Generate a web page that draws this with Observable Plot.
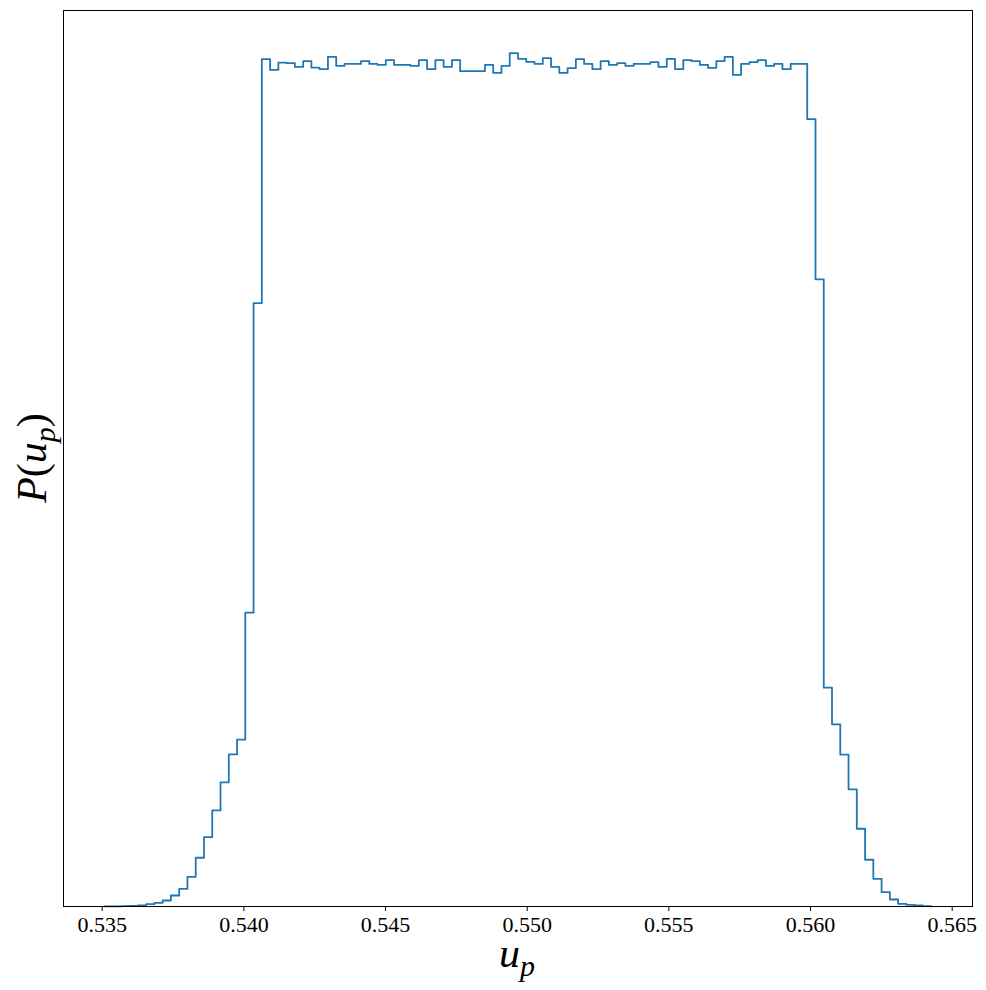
<!DOCTYPE html>
<html><head><meta charset="utf-8">
<script src="https://cdn.jsdelivr.net/npm/d3@7"></script>
<script src="https://cdn.jsdelivr.net/npm/@observablehq/plot@0.6"></script>
<style>body{margin:0;background:#fff}</style>
</head><body><div id="chart"></div>
<script>
// Histogram of u_p: 100 equal-width bins (heights in arbitrary units)
const binStart = 0.535092;
const binWidth = 0.00029166;
const counts = [
  0.1, 0.2, 0.3, 0.5, 1, 2.3, 3.7, 6, 11, 17.7,
  29.7, 48.7, 69.3, 96, 124, 152, 166.7, 293.7, 603, 846.7,
  836, 843.3, 842.7, 839, 844.7, 838.3, 836.7, 849, 840, 842,
  842, 844.7, 842, 841, 845.7, 841, 841, 840, 845.7, 836.7,
  845.7, 839, 845.7, 834.7, 834.7, 834.7, 841, 833, 840, 852.7,
  847, 844, 842, 847.7, 839, 833, 837.7, 846.7, 842, 836.7,
  844.7, 841, 842.7, 840, 842, 842, 843.7, 839, 847, 836.7,
  845.7, 844.7, 841, 838, 844.7, 849, 831, 842, 843.7, 845.7,
  840, 842, 836.7, 842, 842, 786.7, 626.7, 218.7, 182, 151.7,
  117, 77.7, 46.7, 27.7, 14.3, 7, 2.7, 1.7, 1, 0.3
];
const xTicks = [0.535, 0.540, 0.545, 0.550, 0.555, 0.560, 0.565];

const n = counts.length;
const binEnd = binStart + n * binWidth;
const pad = 0.05 * (binEnd - binStart);
const pts = [[binStart, 0]];
counts.forEach((c, i) => {
  const x0 = binStart + i * binWidth;
  pts.push([x0, c], [x0 + binWidth, c]);
});
pts.push([binEnd, 0]);

const chart = Plot.plot({
  width: 986, height: 990,
  marginLeft: 63, marginRight: 14, marginTop: 10, marginBottom: 84,
  x: {domain: [binStart - pad, binEnd + pad]},
  y: {domain: [0, d3.max(counts) * 1.05], axis: null},
  style: {fontFamily: "'Liberation Serif', serif", background: "white", color: "black"},
  marks: [
    Plot.line(pts, {x: d => d[0], y: d => d[1], stroke: "#1f77b4", strokeWidth: 1.8}),
    Plot.frame({stroke: "black", strokeWidth: 1}),
    Plot.axisX(xTicks, {tickFormat: d3.format(".3f"), tickSize: 5, tickPadding: 5, fontSize: 22, label: null})
  ]
});

const svg = d3.select(chart);
const font = "'Liberation Serif', serif";
const xl = svg.append("text")
  .attr("x", 517).attr("y", 967)
  .attr("text-anchor", "middle")
  .attr("font-family", font).attr("font-size", 42).attr("fill", "black");
xl.append("tspan").attr("font-style", "italic").text("u");
xl.append("tspan").attr("font-style", "italic").attr("font-size", 30).attr("dy", 9).text("p");

const yl = svg.append("text")
  .attr("transform", "translate(46,458) rotate(-90)")
  .attr("text-anchor", "middle")
  .attr("font-family", font).attr("font-size", 42).attr("fill", "black");
yl.append("tspan").attr("font-style", "italic").text("P");
yl.append("tspan").text("(");
yl.append("tspan").attr("font-style", "italic").text("u");
yl.append("tspan").attr("font-style", "italic").attr("font-size", 30).attr("dy", 9).text("p");
yl.append("tspan").attr("dy", -9).text(")");

document.getElementById("chart").appendChild(chart);
</script>
</body></html>
